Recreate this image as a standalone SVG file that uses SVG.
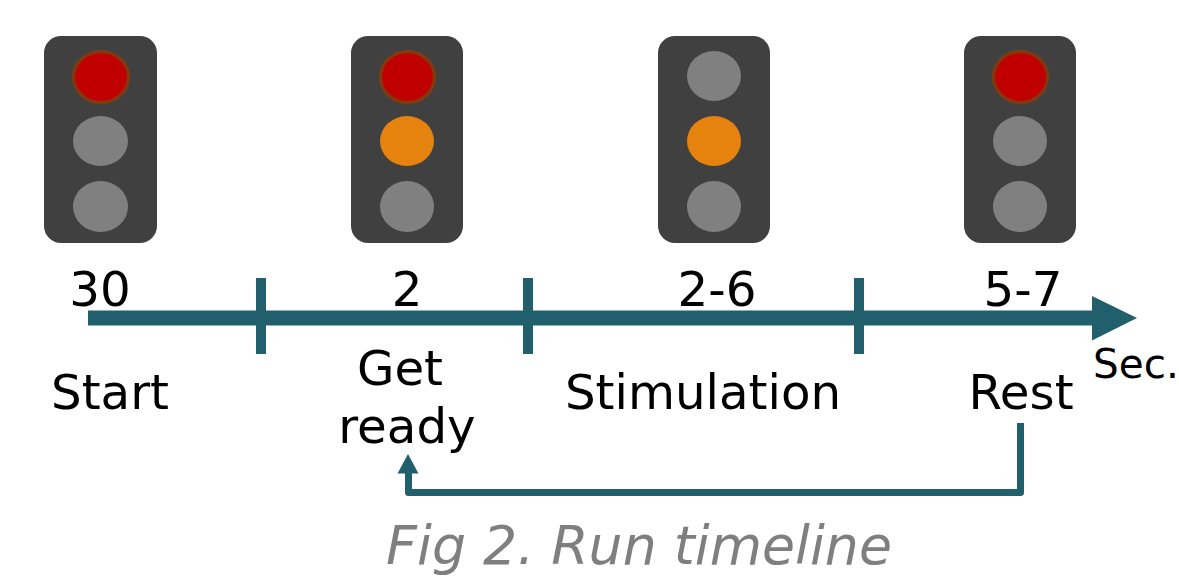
<svg xmlns="http://www.w3.org/2000/svg" width="1179" height="577" viewBox="0 0 1179 577">
<style>
.box{fill:#404040}
.off{fill:#808080}
.red{fill:#c00000;stroke:#843c0c;stroke-opacity:.85;stroke-width:3.5}
.amb{fill:#e6820e}
.ax{stroke:#215f6c;stroke-width:10;fill:none}
.t{font-family:"DejaVu Sans",Verdana,sans-serif;font-size:48.300px;fill:#000;text-anchor:middle}
.cap{font-family:"DejaVu Sans",Verdana,sans-serif;font-size:53.700px;font-style:italic;fill:#7f7f7f;text-anchor:middle}
</style>
<rect width="1179" height="577" fill="#fff"/>
<g id="light1"><rect class="box" x="44" y="36" width="113" height="207" rx="17"/><ellipse class="red" cx="101" cy="77" rx="27.500" ry="25.500"/><ellipse class="off" cx="100.500" cy="141" rx="27.500" ry="25"/><ellipse class="off" cx="100.500" cy="206.500" rx="27.500" ry="25.500"/></g>
<g id="light2"><rect class="box" x="351" y="36" width="112" height="207" rx="17"/><ellipse class="red" cx="407.500" cy="77" rx="27" ry="25.500"/><ellipse class="amb" cx="407" cy="141" rx="27" ry="25"/><ellipse class="off" cx="407" cy="206.500" rx="27" ry="25.500"/></g>
<g id="light3"><rect class="box" x="658" y="36" width="112" height="207" rx="17"/><ellipse class="off" cx="714" cy="76" rx="27" ry="25"/><ellipse class="amb" cx="714" cy="141" rx="27" ry="25"/><ellipse class="off" cx="714" cy="206.500" rx="27" ry="25.500"/></g>
<g id="light4"><rect class="box" x="964" y="36" width="112" height="207" rx="17"/><ellipse class="red" cx="1020.500" cy="77" rx="27" ry="25.500"/><ellipse class="off" cx="1020" cy="141" rx="27" ry="25"/><ellipse class="off" cx="1020" cy="206.500" rx="27" ry="25.500"/></g>
<g id="connectors">
<path d="M88 318H1095" stroke="#215f6c" stroke-width="15" fill="none"/>
<path d="M1092 296L1137 318L1092 340.500Z" fill="#215f6c"/>
<path class="ax" d="M261 278V354M528 278V354M859 278V354"/>
<path d="M1020.500 423V492.500H408.500V470" stroke="#215f6c" stroke-width="7" stroke-linejoin="round" fill="none"/>
<path d="M408 454L418.500 473.500H397.500Z" fill="#215f6c"/>
</g>
<g id="labels">
<text class="t" x="100" y="305.500">30</text>
<text class="t" x="407" y="305.500">2</text>
<text class="t" x="717" y="305.500">2-6</text>
<text class="t" x="1023" y="305.500">5-7</text>
<text class="t" x="110" y="409">Start</text>
<text class="t" x="400" y="385">Get</text>
<text class="t" x="407" y="443">ready</text>
<text class="t" x="703" y="409">Stimulation</text>
<text class="t" x="1021" y="409">Rest</text>
<text x="1093" y="378" font-family="DejaVu Sans, sans-serif" font-size="40.500">Sec.</text>
<text class="cap" x="639" y="564">Fig 2. Run timeline</text>
</g>
</svg>
